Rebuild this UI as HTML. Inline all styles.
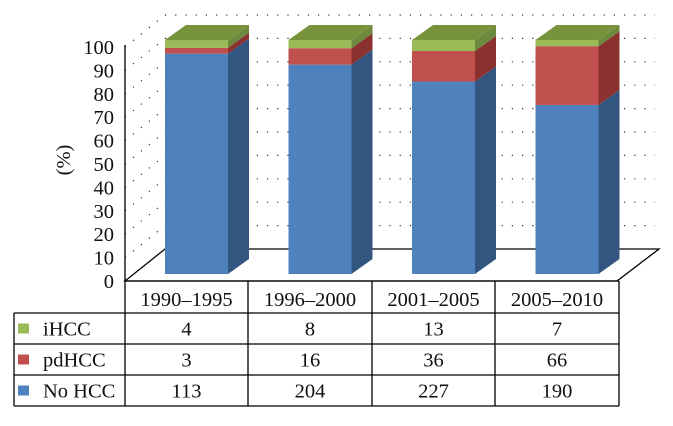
<!DOCTYPE html>
<html><head><meta charset="utf-8"><style>
body{margin:0;background:#fff}
svg text{font-family:"Liberation Serif",serif;fill:#111}
</style></head><body>
<svg id="c" width="673" height="421" xmlns="http://www.w3.org/2000/svg"></svg>
<script>
const categories=["1990–1995","1996–2000","2001–2005","2005–2010"];
const noHcc=[113,204,227,190];
const pdHcc=[3,16,36,66];
const iHcc=[4,8,13,7];
const yTicks=[0,10,20,30,40,50,60,70,80,90,100];
const NS="http://www.w3.org/2000/svg";
const svg=document.getElementById('c');
function mk(t,a,p){const e=document.createElementNS(NS,t);for(const k in a)e.setAttribute(k,a[k]);(p||svg).appendChild(e);return e;}
const X0=125,Y0=281,H=234,DX=40,DY=-32,CW=123.5;
const FS=20.5;
function y(v){return Y0-v/100*H;}
const grid=mk('g',{});


yTicks.forEach(v=>{
  if(v>0){
  mk('line',{x1:X0+DX,y1:y(v)+DY,x2:655,y2:y(v)+DY,stroke:'#333','stroke-width':1.2,'stroke-dasharray':'1.2 9'},grid);
  mk('line',{x1:X0,y1:y(v),x2:X0+DX,y2:y(v)+DY,stroke:'#333','stroke-width':1.2,'stroke-dasharray':'1.2 9'},grid);}
  const t=mk('text',{x:X0-11,y:y(v)+7,'text-anchor':'end','font-size':FS});
  t.textContent=v;
  
  
});
const fl=mk('path',{d:`M${X0} ${Y0}L${X0+DX} ${Y0+DY}L${659} ${Y0+DY}L${617} ${Y0}Z`,fill:'none',stroke:'#000','stroke-width':1.3});


const ax=mk('line',{x1:X0,y1:45,x2:X0,y2:Y0,stroke:'#000','stroke-width':1.3});


const yt=mk('text',{x:0,y:0,'font-size':FS,transform:'translate(70,160) rotate(-90)','text-anchor':'middle'});
yt.textContent='(%)';


const cols=[['#4f81bd','#335680'],['#c0504d','#8b3230'],['#9bbb59','#6e8a3e']];
const topColor='#77933c';
const BY=274,BW=63,SX=21,SY=-15;
function by(v){return BY-v/100*H;}
categories.forEach((c,i)=>{
  const tot=noHcc[i]+pdHcc[i]+iHcc[i];
  const vals=[noHcc[i],pdHcc[i],iHcc[i]];
  const x=165+i*CW; let acc=0;
  const g=mk('g',{});
  
  
  vals.forEach((v,k)=>{
    const p0=acc/tot*100,p1=(acc+v)/tot*100;acc+=v;
    const r=mk('rect',{x:x,y:by(p1),width:BW,height:by(p0)-by(p1),fill:cols[k][0]},g);
    
    
    const s=mk('path',{d:`M${x+BW} ${by(p0)}L${x+BW+SX} ${by(p0)+SY}L${x+BW+SX} ${by(p1)+SY}L${x+BW} ${by(p1)}Z`,fill:cols[k][1]},g);
    
    
  });
  const t=mk('path',{d:`M${x} ${by(100)}L${x+SX} ${by(100)+SY}L${x+BW+SX} ${by(100)+SY}L${x+BW} ${by(100)}Z`,fill:topColor},g);
  
  
});
const tb=mk('g',{});


const colX=[14,125,248,372,495,619];
const rowY=[281,313,344,375,406];
const L=(a,b,c,d)=>mk('line',{x1:a,y1:b,x2:c,y2:d,stroke:'#000','stroke-width':1.3},tb);
for(let i=1;i<colX.length;i++)L(colX[i],281,colX[i],406);
L(14,313,14,406);
L(125,281,619,281);
for(let j=1;j<rowY.length;j++)L(14,rowY[j],619,rowY[j]);
categories.forEach((c,i)=>{
  const t=mk('text',{x:(colX[i+1]+colX[i+2])/2,y:306,'text-anchor':'middle','font-size':FS},tb);
  t.textContent=c;
  
  
});
const rows=[["iHCC",iHcc,'#9bbb59'],["pdHCC",pdHcc,'#c0504d'],["No HCC",noHcc,'#4f81bd']];
rows.forEach((r,j)=>{
  const cy=(rowY[j+1]+rowY[j+2])/2;
  const sw=mk('rect',{x:18,y:cy-5,width:11,height:10,fill:r[2]},tb);
  
  
  const lt=mk('text',{x:43,y:cy+7,'font-size':FS},tb);
  lt.textContent=r[0];
  
  
  r[1].forEach((v,i)=>{
    const t=mk('text',{x:(colX[i+1]+colX[i+2])/2,y:cy+7,'text-anchor':'middle','font-size':FS},tb);
    t.textContent=v;
    
    
  });
});
</script>
</body></html>
